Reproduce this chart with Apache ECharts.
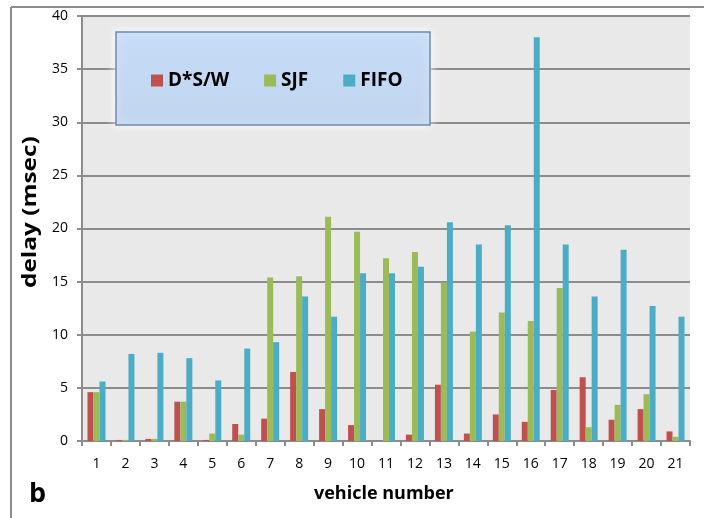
<!DOCTYPE html>
<html><head><meta charset="utf-8">
<script src="https://cdn.jsdelivr.net/npm/echarts@6/dist/echarts.min.js"></script>
<style>html,body{margin:0;padding:0;background:#fff}#c{width:704px;height:518px}</style>
</head><body><div id="c"></div>
<script>
const categories = ['1','2','3','4','5','6','7','8','9','10','11','12','13','14','15','16','17','18','19','20','21'];
const dsw  = [4.6, 0.1, 0.2, 3.7, 0.1, 1.6, 2.1, 6.5, 3.0, 1.5, 0.0, 0.6, 5.3, 0.7, 2.5, 1.8, 4.8, 6.0, 2.0, 3.0, 0.9];
const sjf  = [4.6, 0.1, 0.2, 3.7, 0.7, 0.6, 15.4, 15.5, 21.1, 19.7, 17.2, 17.8, 14.9, 10.3, 12.1, 11.3, 14.4, 1.3, 3.4, 4.4, 0.4];
const fifo = [5.6, 8.2, 8.3, 7.8, 5.7, 8.7, 9.3, 13.6, 11.7, 15.8, 15.8, 16.4, 20.6, 18.5, 20.3, 38.0, 18.5, 13.6, 18.0, 12.7, 11.7];
const seriesNames = ['D*S/W', 'SJF', 'FIFO'];
const colors = ['#c0504d', '#9bbb59', '#4bacc6'];

const chart = echarts.init(document.getElementById('c'), null, {renderer: 'canvas'});
const font = '"Open Sans", "Liberation Sans", sans-serif';
const mk = (name, data, i) => ({
  name, type: 'bar', data, barWidth: 6, barGap: '0%',
  itemStyle: {color: colors[i]}, z: 3
});
chart.setOption({
  animation: false,
  backgroundColor: '#fff',
  grid: {left: 82, right: 14, top: 16, bottom: 77, show: true, backgroundColor: '#e9e9e9', borderWidth: 0},
  xAxis: {
    type: 'category', data: categories,
    axisLine: {lineStyle: {color: '#8c8c8c', width: 2}},
    axisTick: {show: true, length: 5, lineStyle: {color: '#8c8c8c', width: 2}},
    axisLabel: {color: '#000', fontSize: 14, fontFamily: font, margin: 16}
  },
  yAxis: {
    type: 'value', min: 0, max: 40, interval: 5,
    axisLine: {show: true, lineStyle: {color: '#8c8c8c', width: 2}},
    axisTick: {show: true, length: 5, lineStyle: {color: '#8c8c8c', width: 2}},
    splitLine: {lineStyle: {color: '#8c8c8c', width: 2}},
    axisLabel: {color: '#000', fontSize: 14, fontFamily: font, margin: 14}
  },
  legend: {
    data: seriesNames, left: 151, top: 71, padding: 0, itemWidth: 12, itemHeight: 12, itemGap: 35,
    icon: 'rect', z: 20,
    textStyle: {fontSize: 19, fontWeight: 'bold', color: '#000', fontFamily: font}
  },
  graphic: [
    {type: 'line', shape: {x1: 11, y1: 7, x2: 704, y2: 7}, style: {stroke: '#8c8c8c', lineWidth: 2}},
    {type: 'line', shape: {x1: 11, y1: 7, x2: 11, y2: 518}, style: {stroke: '#8c8c8c', lineWidth: 2}},
    {type: 'rect', z: 10, shape: {x: 116, y: 32, width: 314, height: 93},
      style: {fill: new echarts.graphic.LinearGradient(0, 0, 0, 1, [{offset: 0, color: '#c6dcf7'}, {offset: 1, color: '#c1d5ee'}]),
        stroke: '#6c8ab0', lineWidth: 1.5, shadowBlur: 10, shadowColor: 'rgba(255,255,255,0.9)'}},
    {type: 'text', z: 10, x: 20, y: 288, rotation: Math.PI / 2, scaleX: 1.22,
      style: {text: 'delay (msec)', fontSize: 20, fontWeight: 'bold', fill: '#000', fontFamily: font, textAlign: 'left', textVerticalAlign: 'top'}},
    {type: 'text', z: 10, left: 314, top: 485,
      style: {text: 'vehicle number', fontSize: 18, fontWeight: 'bold', fill: '#000', fontFamily: font}},
    {type: 'text', z: 10, left: 29, top: 481,
      style: {text: 'b', fontSize: 27, fontWeight: 'bold', fill: '#000', fontFamily: font}}
  ],
  series: [mk(seriesNames[0], dsw, 0), mk(seriesNames[1], sjf, 1), mk(seriesNames[2], fifo, 2)]
});
</script></body></html>
